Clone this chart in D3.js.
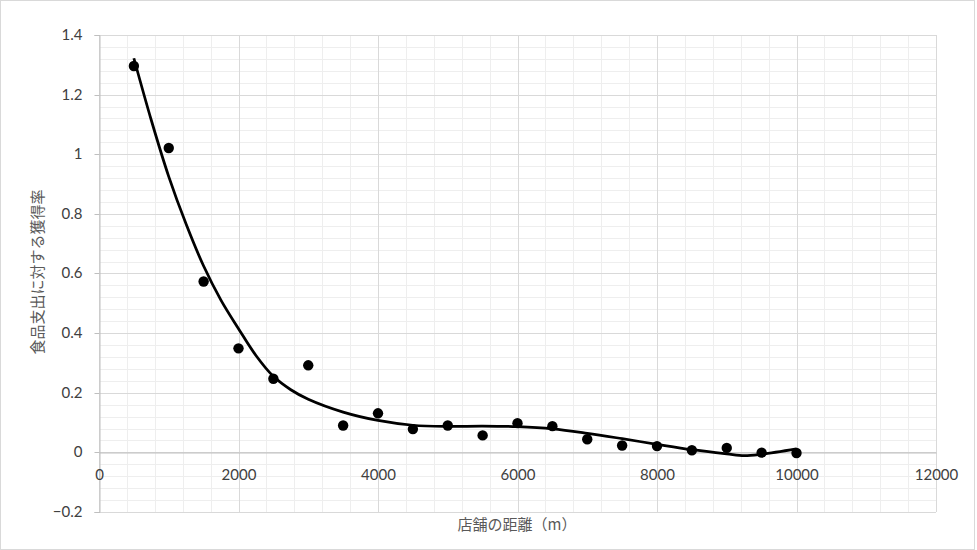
<!DOCTYPE html>
<html><head><meta charset="utf-8">
<script src="https://cdn.jsdelivr.net/npm/d3@7"></script>
<style>body{margin:0;background:#fff;}svg{display:block;}</style>
</head><body>
<svg id="c" width="977" height="550"></svg>
<script>
const distances = [500,1000,1500,2000,2500,3000,3500,4000,4500,5000,5500,6000,6500,7000,7500,8000,8500,9000,9500,10000];
const rates = [1.296,1.021,0.573,0.349,0.247,0.292,0.09,0.131,0.078,0.09,0.057,0.098,0.088,0.044,0.023,0.021,0.007,0.015,-0.001,-0.002];
// trendline as drawn in the reference (polynomial trend)
const trendX = [500,750,1000,1250,1500,1750,2000,2250,2500,2750,3000,3500,4000,4500,5000,5500,6000,6500,7000,7500,8000,8500,9000,9250,9500,10000];
const trendY = [1.322,1.114,0.925,0.765,0.625,0.51,0.415,0.325,0.255,0.21,0.178,0.135,0.107,0.091,0.087,0.088,0.086,0.079,0.064,0.046,0.027,0.009,-0.005,-0.011,-0.006,0.012];
const xTicks = [0,2000,4000,6000,8000,10000,12000];
const yTicks = [-0.2,0,0.2,0.4,0.6,0.8,1,1.2,1.4];
const xTitle = "店舗の距離（m）";
const yTitle = "食品支出に対する獲得率";

const svg = d3.select("#c");
const W = 977, H = 550;
svg.append("rect").attr("x",0.5).attr("y",0.5).attr("width",W-3).attr("height",H-1).attr("fill","#fff").attr("stroke","#d9d9d9");

const x = d3.scaleLinear().domain([0,12000]).range([99,936]);
const y = d3.scaleLinear().domain([-0.2,1.4]).range([512,35]);
const font = "Lato, 'Open Sans', sans-serif";

// minor grid
const g = svg.append("g");
g.selectAll(".mx").data(d3.range(0,12001,400)).join("line")
  .attr("x1",d=>Math.round(x(d))+0.5).attr("x2",d=>Math.round(x(d))+0.5).attr("y1",y(1.4)).attr("y2",y(-0.2))
  .attr("stroke","#eeeeee").attr("stroke-width",1);
g.selectAll(".my").data(d3.range(-5,36).map(i=>i*0.04)).join("line")
  .attr("x1",x(0)).attr("x2",x(12000)).attr("y1",d=>Math.round(y(d))+0.5).attr("y2",d=>Math.round(y(d))+0.5)
  .attr("stroke","#eeeeee").attr("stroke-width",1);
// major grid
g.selectAll(".Mx").data(xTicks).join("line")
  .attr("x1",d=>Math.round(x(d))+0.5).attr("x2",d=>Math.round(x(d))+0.5).attr("y1",y(1.4)).attr("y2",y(-0.2))
  .attr("stroke","#d9d9d9");
g.selectAll(".My").data(yTicks).join("line")
  .attr("x1",x(0)).attr("x2",x(12000)).attr("y1",d=>Math.round(y(d))+0.5).attr("y2",d=>Math.round(y(d))+0.5)
  .attr("stroke","#d9d9d9");

// axes
const yAxis = d3.axisLeft(y).tickValues(yTicks).tickSize(5).tickPadding(12).tickFormat(d=>d3.format("")(+d.toFixed(1)));
const ya = svg.append("g").attr("transform",`translate(${x(0)+0.5},0)`).call(yAxis);
ya.select(".domain").attr("stroke","#bfbfbf");
ya.selectAll(".tick line").attr("stroke","#bfbfbf");
ya.selectAll(".tick").attr("transform",d=>`translate(0,${Math.round(y(d))+0.5})`);
ya.selectAll("text").attr("fill","#404040").style("font-size","15px").style("font-family",font);

const xAxis = d3.axisBottom(x).tickValues(xTicks).tickSize(0).tickPadding(17).tickFormat(d3.format("d"));
const xa = svg.append("g").attr("transform",`translate(0,${Math.round(y(0))+0.5})`).call(xAxis);
xa.select(".domain").attr("stroke","#bfbfbf");
xa.selectAll("text").attr("fill","#404040").style("font-size","15px").style("font-family",font);

// trendline
svg.append("path").datum(trendX.map((d,i)=>[d,trendY[i]]))
  .attr("d", d3.line().x(d=>x(d[0])).y(d=>y(d[1])).curve(d3.curveCatmullRom.alpha(0.5)))
  .attr("fill","none").attr("stroke","#000").attr("stroke-width",2.75).attr("stroke-linejoin","round");

// points
svg.append("g").selectAll("circle").data(distances.map((d,i)=>[d,rates[i]])).join("circle")
  .attr("cx",d=>x(d[0])).attr("cy",d=>y(d[1])).attr("r",5.2).attr("fill","#000");

// titles
svg.append("text").attr("x",517).attr("y",530).attr("text-anchor","middle")
  .attr("fill","#595959").style("font-size","15px").style("font-family","'Noto Sans CJK JP', sans-serif").text(xTitle);
svg.append("text").attr("transform","translate(43,272) rotate(-90)").attr("text-anchor","middle")
  .attr("fill","#595959").style("font-size","15px").style("font-family","'Noto Sans CJK JP', sans-serif").text(yTitle);
</script>
</body></html>
